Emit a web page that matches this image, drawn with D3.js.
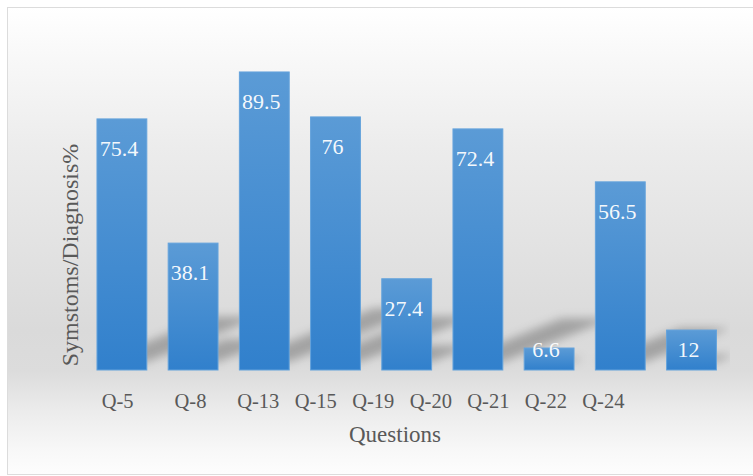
<!DOCTYPE html>
<html>
<head>
<meta charset="utf-8">
<script src="https://cdn.jsdelivr.net/npm/d3@7"></script>
<style>
  html, body { margin: 0; padding: 0; background: #ffffff; }
  svg { display: block; }
</style>
</head>
<body>
<svg id="chart" width="753" height="476"></svg>
<script>
// Share of respondents reporting symptoms / diagnosis, per survey question
const categories = ["Q-5", "Q-8", "Q-13", "Q-15", "Q-19", "Q-20", "Q-21", "Q-22", "Q-24"];
const values = [75.4, 38.1, 89.5, 76, 27.4, 72.4, 6.6, 56.5, 12];
const tickLabels = ["Q-5", "Q-8", "Q-13", "Q-15", "Q-19", "Q-20", "Q-21", "Q-22", "Q-24"];
const yTitle = "Symstoms/Diagnosis%";
const xTitle = "Questions";

const FONT = "'Liberation Serif', 'Times New Roman', Tinos, 'DejaVu Serif', serif";
const W = 753, H = 476;
const svg = d3.select("#chart");
const defs = svg.append("defs");

// Chart background: soft vertical grey gradient inside a thin frame
const bgGrad = defs.append("linearGradient")
  .attr("id", "bgGrad").attr("x1", 0).attr("y1", 0).attr("x2", 0).attr("y2", 1);
[[0, "#ffffff"], [0.11, "#f8f8f8"], [0.3, "#ececec"], [0.52, "#e2e2e2"],
 [0.69, "#dadada"], [0.78, "#dcdcdc"], [0.86, "#ebebeb"], [0.95, "#f8f8f8"], [1, "#fdfdfd"]]
  .forEach(([o, c]) => bgGrad.append("stop").attr("offset", o).attr("stop-color", c));

// Bar fill: lighter blue at the top, deeper blue at the base
const barGrad = defs.append("linearGradient")
  .attr("id", "barGrad").attr("x1", 0).attr("y1", 0).attr("x2", 0).attr("y2", 1);
barGrad.append("stop").attr("offset", 0).attr("stop-color", "#5b9bd6");
barGrad.append("stop").attr("offset", 1).attr("stop-color", "#3180cc");

// Blur used for the perspective shadows behind the bars
defs.append("filter").attr("id", "shadowBlur")
  .attr("x", "-50%").attr("y", "-50%").attr("width", "200%").attr("height", "200%")
  .append("feGaussianBlur").attr("stdDeviation", 5);

svg.append("rect")
  .attr("x", 7.5).attr("y", 7.5).attr("width", 760).attr("height", 467)
  .attr("fill", "url(#bgGrad)").attr("stroke", "#dcdcdc").attr("stroke-width", 1);

// Scales
const x = d3.scaleBand()
  .domain(categories)
  .range([86.3, 727.1])
  .paddingInner(0.3)
  .paddingOuter(0.15);

const y = d3.scaleLinear()
  .domain([0, 100])
  .range([370, 37]);

const data = categories.map((c, i) => ({ cat: c, value: values[i] }));
const bw = x.bandwidth();
const base = y(0);

// Plot-area clip for the shadows
defs.append("clipPath").attr("id", "plotClip")
  .append("rect").attr("x", 84).attr("y", 30).attr("width", 646).attr("height", base - 30 + 1);

// Perspective shadows cast up and to the right from each bar's foot
const shadowSlope = 0.4;
svg.append("g")
  .attr("clip-path", "url(#plotClip)")
  .append("g")
  .attr("filter", "url(#shadowBlur)")
  .selectAll("polygon")
  .data(data)
  .join("polygon")
  .attr("points", d => {
    const x0 = x(d.cat), x1 = x0 + bw;
    const b = base - 8;
    const L = 0.45 * (base - y(d.value));
    return [[x0, b], [x1, b], [x1 + L, b - shadowSlope * L], [x0 + L, b - shadowSlope * L]]
      .map(p => p.join(",")).join(" ");
  })
  .attr("fill", "#000")
  .attr("fill-opacity", 0.26);

// Bars
svg.append("g")
  .selectAll("rect")
  .data(data)
  .join("rect")
  .attr("x", d => x(d.cat))
  .attr("y", d => y(d.value))
  .attr("width", bw)
  .attr("height", d => base - y(d.value))
  .attr("fill", "url(#barGrad)")
  .attr("stroke", "#64a3dc")
  .attr("stroke-width", 1);

// Value labels just inside the top of each bar (kept above the baseline on short bars)
svg.append("g")
  .selectAll("text")
  .data(data)
  .join("text")
  .attr("x", d => x(d.cat) + bw / 2 - 3)
  .attr("y", d => Math.min(y(d.value) + 37, base - 13))
  .attr("text-anchor", "middle")
  .attr("font-family", FONT)
  .attr("font-size", "22px")
  .attr("fill", "#ffffff")
  .attr("fill-opacity", 0.95)
  .text(d => d.value);

// Category labels, set as one running line beneath the bars
const tickGapEm = [2, 1.5, 0.75, 0.75, 0.75, 0.75, 0.75, 0.75];
const tickLine = svg.append("text")
  .attr("x", x(categories[0]) + 4.7)
  .attr("y", 408)
  .attr("font-family", FONT)
  .attr("font-size", "20.5px")
  .attr("fill", "#595959");
tickLine.selectAll("tspan")
  .data(tickLabels)
  .join("tspan")
  .attr("dx", (d, i) => i === 0 ? null : tickGapEm[i - 1] + "em")
  .text(d => d);

// Axis titles
svg.append("text")
  .attr("x", 395)
  .attr("y", 442)
  .attr("text-anchor", "middle")
  .attr("font-family", FONT)
  .attr("font-size", "23px")
  .attr("fill", "#595959")
  .text(xTitle);

svg.append("text")
  .attr("transform", "translate(78,255) rotate(-90)")
  .attr("text-anchor", "middle")
  .attr("font-family", FONT)
  .attr("font-size", "24px")
  .attr("fill", "#595959")
  .text(yTitle);
</script>
</body>
</html>
